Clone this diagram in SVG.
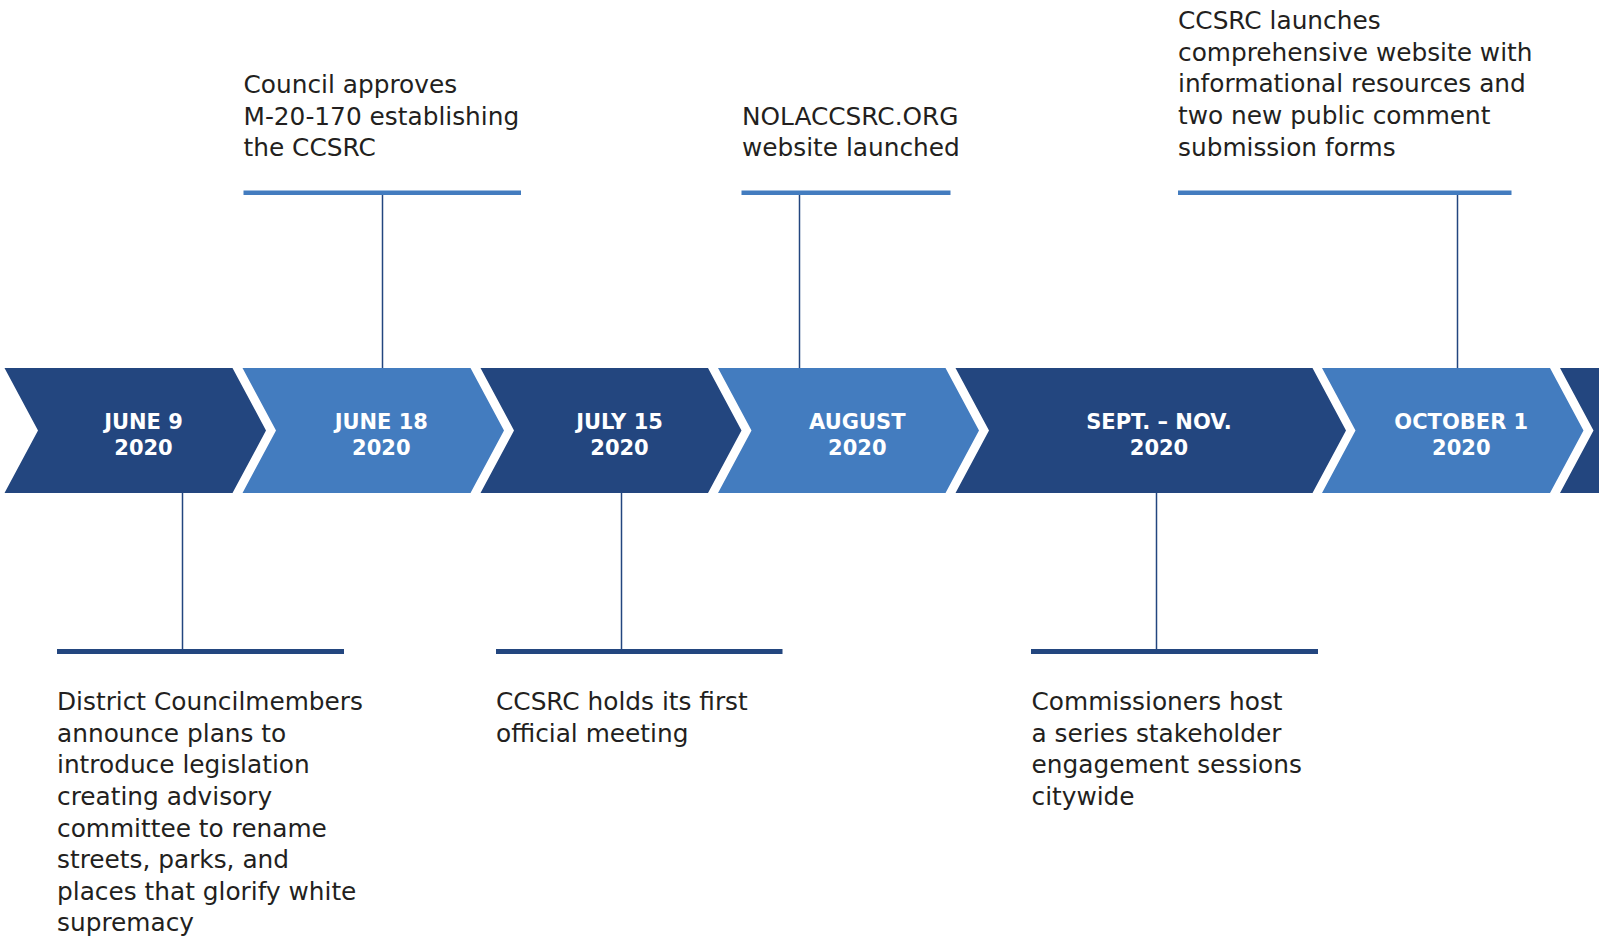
<svg xmlns="http://www.w3.org/2000/svg" width="1599" height="951" viewBox="0 0 1599 951">
  <style>
    .dark { fill: #23467f; }
    .light { fill: #437cbf; }
    .lbl { font-family: "DejaVu Sans", "Liberation Sans", sans-serif; font-weight: bold; font-size: 21px; fill: #ffffff; text-anchor: middle; }
    .txt { font-family: "DejaVu Sans", "Liberation Sans", sans-serif; font-size: 24.8px; fill: #231f20; }
    .barTop { fill: #437cbf; }
    .barBot { fill: #23467f; }
    .conn { stroke: #23467f; stroke-width: 1.5; fill: none; }
  </style>
  <rect width="1599" height="951" fill="#ffffff"/>

  <g id="connectors">
    <line class="conn" x1="382.5" y1="195" x2="382.5" y2="368"/>
    <line class="conn" x1="799.5" y1="195" x2="799.5" y2="368"/>
    <line class="conn" x1="1457.5" y1="195" x2="1457.5" y2="368"/>
    <line class="conn" x1="182.5" y1="493" x2="182.5" y2="649"/>
    <line class="conn" x1="621.5" y1="493" x2="621.5" y2="649"/>
    <line class="conn" x1="1156.5" y1="493" x2="1156.5" y2="649"/>
  </g>

  <g id="chevron-june9">
    <polygon class="dark" points="4.5,368 232.5,368 266,430.5 232.5,493 4.5,493 38,430.5"/>
    <text class="lbl" x="143.5" y="428.5">JUNE 9</text>
    <text class="lbl" x="143.5" y="454.5">2020</text>
  </g>
  <g id="chevron-june18">
    <polygon class="light" points="242.5,368 470.5,368 504,430.5 470.5,493 242.5,493 276,430.5"/>
    <text class="lbl" x="381.3" y="428.5">JUNE 18</text>
    <text class="lbl" x="381.3" y="454.5">2020</text>
  </g>
  <g id="chevron-july15">
    <polygon class="dark" points="480.5,368 708,368 741.5,430.5 708,493 480.5,493 514,430.5"/>
    <text class="lbl" x="619.5" y="428.5">JULY 15</text>
    <text class="lbl" x="619.5" y="454.5">2020</text>
  </g>
  <g id="chevron-august">
    <polygon class="light" points="718,368 945.5,368 979,430.5 945.5,493 718,493 751.5,430.5"/>
    <text class="lbl" x="857.3" y="428.5">AUGUST</text>
    <text class="lbl" x="857.3" y="454.5">2020</text>
  </g>
  <g id="chevron-sept-nov">
    <polygon class="dark" points="955.5,368 1312.5,368 1346,430.5 1312.5,493 955.5,493 989,430.5"/>
    <text class="lbl" x="1159" y="428.5">SEPT. – NOV.</text>
    <text class="lbl" x="1159" y="454.5">2020</text>
  </g>
  <g id="chevron-october1">
    <polygon class="light" points="1322,368 1550,368 1583.5,430.5 1550,493 1322,493 1355.5,430.5"/>
    <text class="lbl" x="1461.3" y="428.5">OCTOBER 1</text>
    <text class="lbl" x="1461.3" y="454.5">2020</text>
  </g>
  <g id="chevron-next">
    <polygon class="dark" points="1560,368 1700,368 1700,493 1560,493 1593.5,430.5"/>
  </g>

  <g id="event-council-approves">
    <text class="txt" x="243.5" y="93.3">Council approves</text>
    <text class="txt" x="243.5" y="124.6">M-20-170 establishing</text>
    <text class="txt" x="243.5" y="155.8">the CCSRC</text>
    <rect class="barTop" x="243.5" y="190.5" width="277.5" height="4.5"/>
  </g>

  <g id="event-website-launched">
    <text class="txt" x="742" y="124.6">NOLACCSRC.ORG</text>
    <text class="txt" x="742" y="155.8">website launched</text>
    <rect class="barTop" x="741.5" y="190.5" width="209" height="4.5"/>
  </g>

  <g id="event-comprehensive-website">
    <text class="txt" x="1178" y="29">CCSRC launches</text>
    <text class="txt" x="1178" y="60.7">comprehensive website with</text>
    <text class="txt" x="1178" y="92.4">informational resources and</text>
    <text class="txt" x="1178" y="124.1">two new public comment</text>
    <text class="txt" x="1178" y="155.8">submission forms</text>
    <rect class="barTop" x="1178" y="190.5" width="333.5" height="4.5"/>
  </g>

  <g id="event-district-announce">
    <rect class="barBot" x="57" y="649" width="287" height="5"/>
    <text class="txt" x="57" y="710.2">District Councilmembers</text>
    <text class="txt" x="57" y="741.8">announce plans to</text>
    <text class="txt" x="57" y="773.4">introduce legislation</text>
    <text class="txt" x="57" y="805">creating advisory</text>
    <text class="txt" x="57" y="836.6">committee to rename</text>
    <text class="txt" x="57" y="868.2">streets, parks, and</text>
    <text class="txt" x="57" y="899.8">places that glorify white</text>
    <text class="txt" x="57" y="931.4">supremacy</text>
  </g>

  <g id="event-first-meeting">
    <rect class="barBot" x="496" y="649" width="286.5" height="5"/>
    <text class="txt" x="496" y="710.2">CCSRC holds its first</text>
    <text class="txt" x="496" y="741.8">official meeting</text>
  </g>

  <g id="event-stakeholder-sessions">
    <rect class="barBot" x="1031" y="649" width="287" height="5"/>
    <text class="txt" x="1031.5" y="710.2">Commissioners host</text>
    <text class="txt" x="1031.5" y="741.8">a series stakeholder</text>
    <text class="txt" x="1031.5" y="773.4">engagement sessions</text>
    <text class="txt" x="1031.5" y="805">citywide</text>
  </g>
</svg>
